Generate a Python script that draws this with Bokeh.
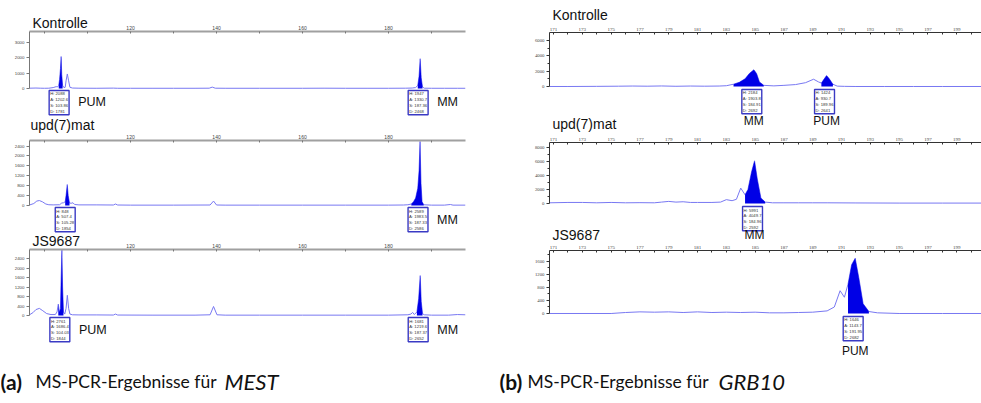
import numpy as np
from bokeh.plotting import figure
from bokeh.models import Range1d, Label, FixedTicker, Title
from bokeh.layouts import column, row
from bokeh.embed import file_html
from bokeh.resources import INLINE

TRACE = "#7878f2"
FILL = "#0000e6"
BOXC = "#3a3ac4"

# ---------------- MEST (a) ----------------
MEST_TICKS = [120, 140, 160, 180]
MEST_MINOR = [100, 110, 130, 150, 170, 190]

K_MEST_X = [96.5, 98, 99, 100, 101, 102, 102.7, 103.0, 103.3, 103.5, 103.7, 103.86, 104.0, 104.2, 104.5, 104.8,
            105.0, 105.3, 105.6, 105.9, 106.5, 108, 112, 116, 117, 120, 125, 130, 135, 138.3, 139.0, 139.7, 142,
            150, 160, 165, 170, 175, 180, 184, 185.5, 186.3, 186.8, 187.1, 187.36, 187.6, 187.9, 188.3, 190, 193,
            196, 197.9]
K_MEST_Y = [20, 30, 20, 15, 20, 60, 120, 100, 200, 600, 1300, 2088, 900, 200, 60, 80,
            500, 950, 500, 80, 30, 20, 15, 25, 15, 15, 15, 15, 15, 20, 90, 20, 15,
            15, 15, 20, 15, 15, 15, 20, 30, 60, 200, 800, 1947, 700, 100, 20, 15, 15,
            15, 15]
K_MEST_FILL = [(103.2, 104.4), (186.5, 188.0)]
K_MEST_BOX = [(103.86, "H: 2088\nA: 1202.6\nS: 103.86\nD: 1781", "PUM"),
              (187.36, "H: 1947\nA: 1330.7\nS: 187.36\nD: 2468", "MM")]

U_MEST_X = [96.5, 97.5, 98.2, 98.8, 99.5, 100.3, 101, 102, 103.5, 104.0, 104.4, 104.8, 105.0, 105.28, 105.5, 105.8,
            106.2, 106.6, 107, 108, 112, 116.0, 116.5, 117.0, 120, 130, 138.5, 139.3, 140.0, 142, 150, 160, 170,
            180, 183.5, 184.5, 185.3, 185.8, 186.3, 186.8, 187.1, 187.33, 187.55, 187.8, 188.2, 190, 193, 194.4,
            195, 197.9]
U_MEST_Y = [20, 80, 180, 200, 150, 60, 30, 25, 30, 100, 110, 150, 400, 848, 400, 100,
            90, 110, 40, 25, 25, 20, 60, 20, 15, 15, 20, 180, 20, 15, 15, 15, 15,
            15, 20, 30, 60, 150, 300, 700, 1400, 2589, 900, 150, 30, 15, 15, 40,
            15, 15]
U_MEST_FILL = [(104.8, 105.8), (185.3, 188.2)]
U_MEST_BOX = [(105.28, "H: 848\nA: 507.4\nS: 105.28\nD: 1854", ""),
              (187.33, "H: 2589\nA: 1983.5\nS: 187.33\nD: 2586", "MM")]

J_MEST_X = [96.5, 97.3, 98.0, 98.8, 99.6, 100.5, 101.5, 102.5, 102.9, 103.2, 103.45, 103.7, 103.85, 104.03, 104.2,
            104.4, 104.7, 105.0, 105.3, 105.6, 105.9, 106.5, 108, 112, 116.0, 116.5, 117.0, 125, 135, 138.5, 139.3,
            140.1, 142, 150, 160, 170, 180, 184.5, 185.2, 185.6, 186.0, 186.6, 187.0, 187.37, 187.6, 187.9, 188.3,
            190, 194, 196, 197.9]
J_MEST_Y = [30, 120, 250, 300, 200, 80, 40, 40, 150, 480, 150, 300, 1500, 2761, 1200,
            150, 60, 300, 850, 300, 60, 30, 25, 25, 20, 60, 20, 15, 15, 30, 380,
            30, 15, 15, 15, 15, 15, 30, 60, 130, 40, 150, 700, 1681, 600, 80, 30,
            15, 15, 40, 30]
J_MEST_FILL = [(103.0, 104.5), (186.4, 188.0)]
J_MEST_BOX = [(104.03, "H: 2761\nA: 1686.4\nS: 104.03\nD: 1844", "PUM"),
              (187.37, "H: 1681\nA: 1219.6\nS: 187.37\nD: 2652", "MM")]

# ---------------- GRB10 (b) ----------------
GRB_TICKS = list(range(171, 203, 2))
GRB_MINOR = list(range(170, 202, 2))

K_GRB_X = [170.72, 172, 174, 175.5, 176.5, 177.5, 178.5, 179.5, 180.5, 181.5, 182.5, 183.0, 183.5, 183.9, 184.3,
           184.6, 184.91, 185.1, 185.3, 185.6, 186.3, 187.0, 187.8, 188.5, 189.06, 189.4, 189.6, 189.8, 189.96,
           190.15, 190.4, 190.7, 191.2, 192, 194, 196, 198, 200.72]
K_GRB_Y = [0, 0, 20, 40, 60, 40, 70, 30, 60, 40, 60, 100, 300, 550, 1000,
           1700, 2184, 1700, 600, 150, 80, 150, 250, 500, 950, 600, 450, 1000, 1424,
           1000, 300, 50, 20, 0, 0, 0, 0, 0]
K_GRB_FILL = [(183.3, 185.6), (189.55, 190.6)]
K_GRB_BOX = [(184.91, "H: 2184\nA: 1903.8\nS: 184.91\nD: 2692", "MM"),
             (189.96, "H: 1424\nA: 930.7\nS: 189.96\nD: 2641", "PUM")]

U_GRB_X = [170.72, 172, 173, 174, 175, 176, 177, 178, 178.5, 179, 179.5, 180, 180.5, 181, 182, 182.6, 183.0, 183.4,
           183.7, 184.0, 184.3, 184.5, 184.75, 184.96, 185.15, 185.4, 185.7, 186.2, 187, 188, 189, 190, 192, 195,
           198, 200.72]
U_GRB_Y = [100, 150, 150, 100, 150, 100, 120, 100, 200, 300, 200, 250, 150, 150, 150, 200, 550, 400,
           600, 2200, 1250, 2000, 4500, 6100, 3500, 800, 200, 100, 100, 100, 100, 100, 80, 60,
           60, 60]
U_GRB_FILL = [(184.3, 185.7)]
U_GRB_BOX = [(184.96, "H: 5991\nA: 4049.7\nS: 184.96\nD: 2592", "MM")]

J_GRB_X = [170.72, 175, 176, 177, 178, 179, 180, 181, 182, 183, 184, 185, 186, 187, 188, 189, 190, 190.5, 190.9,
           191.2, 191.45, 191.7, 191.95, 192.2, 192.5, 192.9, 193.5, 195, 198, 200.72]
J_GRB_Y = [0, 0, 30, 50, 40, 50, 30, 50, 30, 40, 30, 40, 20, 20, 30, 40, 80, 200, 700,
           500, 900, 1500, 1700, 1100, 300, 60, 20, 0, 0, 0]
J_GRB_FILL = [(191.35, 192.9)]
J_GRB_BOX = [(191.95, "H: 1646\nA: 1143.7\nS: 191.95\nD: 2682", "PUM")]

TITLE_FONT = "Liberation Sans"
CAP_FONT = "Lato"


def make_fig(w, h, xr, yr, bl, bt, br, axes=True):
    kw = dict(width=w, height=h, x_range=Range1d(*xr), y_range=Range1d(*yr),
              output_backend="svg", toolbar_location=None, title=None,
              min_border_left=bl, min_border_top=bt, min_border_bottom=0, min_border_right=br)
    if axes:
        kw["x_axis_location"] = "above"
    else:
        kw["x_axis_location"] = None
        kw["y_axis_location"] = None
    p = figure(**kw)
    p.xgrid.visible = False
    p.ygrid.visible = False
    p.outline_line_color = None
    p.border_fill_color = "white"
    p.background_fill_color = "white"
    return p


def style_axes(p, xticks, xminor, yticks, yminor, top, mest):
    xa = p.xaxis[0]
    xa.ticker = FixedTicker(ticks=xticks, minor_ticks=xminor)
    xa.axis_line_color = "#a0a0a0" if mest else "#333333"
    xa.axis_line_width = 2 if mest else 1
    xa.major_tick_in = 2
    xa.major_tick_out = 0
    xa.minor_tick_in = 2
    xa.minor_tick_out = 0
    xa.major_tick_line_color = "#777777" if mest else "#333333"
    xa.minor_tick_line_color = "#777777" if mest else "#333333"
    xa.major_label_standoff = 2
    xa.major_label_text_font = "Liberation Sans" if mest else "Liberation Serif"
    xa.major_label_text_font_size = "5px"
    xa.major_label_text_color = "#444444"
    ya = p.yaxis[0]
    ya.ticker = FixedTicker(ticks=yticks, minor_ticks=yminor)
    ya.bounds = (0, top)
    ya.axis_line_color = "#777777" if mest else "#333333"
    ya.major_tick_line_color = "#777777" if mest else "#333333"
    ya.minor_tick_line_color = "#777777" if mest else "#333333"
    ya.major_tick_out = 3
    ya.major_tick_in = 0
    ya.minor_tick_out = 0 if mest else 2
    ya.minor_tick_in = 0
    ya.major_label_standoff = 2
    ya.major_label_text_font = "Liberation Sans" if mest else "Liberation Serif"
    ya.major_label_text_font_size = "4.4px" if mest else "4.8px"
    ya.major_label_text_color = "#444444"


def draw_trace(p, xs, ys, fills):
    x = np.array(xs, dtype=float)
    y = np.array(ys, dtype=float)
    p.line(x, y, line_color=TRACE, line_width=1)
    for lo, hi in fills:
        m = (x >= lo) & (x <= hi)
        p.varea(x=x[m], y1=0, y2=y[m], fill_color=FILL, fill_alpha=1)


def panel_title(p, text, dx, standoff):
    # sample name in the panel's top border, beside the tick labels
    p.add_layout(Title(text=text, align="left", offset=dx, standoff=standoff, vertical_align="bottom",
                       text_font=TITLE_FONT, text_font_size="14px", text_font_style="normal",
                       text_color="#111111"), "above")


def label_title(p, text, dx, dy):
    # sample name of the next panel, drawn at the bottom of this figure area
    p.add_layout(Label(x=p.x_range.start, y=p.y_range.start, x_offset=dx, y_offset=dy, text=text,
                       text_font=TITLE_FONT, text_font_size="14px", text_color="#111111",
                       text_baseline="alphabetic", text_align="left"))


def info_box(p, s, text, dy):
    p.add_layout(Label(x=s, y=0, x_offset=-12, y_offset=dy, text=text, text_align="left",
                       text_baseline="top", text_font="Liberation Sans", text_font_size="4.2px",
                       text_color="#333333", text_line_height=1.15,
                       border_line_color=BOXC, border_line_width=1.4,
                       background_fill_color="white", padding=1))


def peak_label(p, s, text, dx, dy, align="left", size="12.5px"):
    p.add_layout(Label(x=s, y=0, x_offset=dx, y_offset=dy, text=text, text_align=align,
                       text_baseline="top", text_font="Liberation Sans", text_font_size=size,
                       text_color="#111111"))


XR_M = (96.5, 197.9)
XR_G = (170.72, 200.72)
WL = 530
WR = 981 - WL
BL_L, BR_L = 29, 65
BL_R, BR_R = 19, 0

# ---- left column ----
a1 = make_fig(WL, 116, XR_M, (-1830, 3725), BL_L, 31, BR_L)
style_axes(a1, MEST_TICKS, MEST_MINOR, [0, 1000, 2000, 3000], [], 3725, True)
draw_trace(a1, K_MEST_X, K_MEST_Y, K_MEST_FILL)
panel_title(a1, "Kontrolle", 3, -16)
for s, t, lab in K_MEST_BOX:
    info_box(a1, s, t, -2)
    if lab:
        peak_label(a1, s, lab, 17, -7)

a2 = make_fig(WL, 117, XR_M, (-1131, 2626), BL_L, 24, BR_L)
style_axes(a2, MEST_TICKS, MEST_MINOR, [0, 400, 800, 1200, 1600, 2000, 2400], [], 2626, True)
draw_trace(a2, U_MEST_X, U_MEST_Y, U_MEST_FILL)
panel_title(a2, "upd(7)mat", 1, -3)
for s, t, lab in U_MEST_BOX:
    info_box(a2, s, t, -2)
    if lab:
        peak_label(a2, s, lab, 17, -7)

a3 = make_fig(WL, 125, XR_M, (-1810, 2779), BL_L, 16, BR_L)
style_axes(a3, MEST_TICKS, MEST_MINOR, [0, 400, 800, 1200, 1600, 2000, 2400], [], 2779, True)
draw_trace(a3, J_MEST_X, J_MEST_Y, J_MEST_FILL)
panel_title(a3, "JS9687", 3, -17)
for s, t, lab in J_MEST_BOX:
    info_box(a3, s, t, -2)
    if lab:
        peak_label(a3, s, lab, 17, -7)

# ---- right column ----
hB = make_fig(WR, 24, XR_G, (0, 1), BL_R, 0, BR_R, axes=False)
label_title(hB, "Kontrolle", 3, 10)

b1 = make_fig(WR, 110, XR_G, (-6275, 7059), BL_R, 8, BR_R)
style_axes(b1, GRB_TICKS, GRB_MINOR, [0, 2000, 4000, 6000], [1000, 3000, 5000], 7059, False)
draw_trace(b1, K_GRB_X, K_GRB_Y, K_GRB_FILL)
for s, t, lab in K_GRB_BOX:
    info_box(b1, s, t, -3)
    peak_label(b1, s, lab, 0, -28, align="center", size="12px")
label_title(b1, "upd(7)mat", 3, 11)

b2 = make_fig(WR, 108, XR_G, (-5571, 8714), BL_R, 8, BR_R)
style_axes(b2, GRB_TICKS, GRB_MINOR, [0, 2000, 4000, 6000, 8000], [1000, 3000, 5000, 7000], 8714, False)
draw_trace(b2, U_GRB_X, U_GRB_Y, U_GRB_FILL)
for s, t, lab in U_GRB_BOX:
    info_box(b2, s, t, -3)
    peak_label(b2, s, lab, 0, -24.5, align="center", size="12px")
label_title(b2, "JS9687", 3, 8)

b3 = make_fig(WR, 116, XR_G, (-1385, 1938), BL_R, 8, BR_R)
style_axes(b3, GRB_TICKS, GRB_MINOR, [0, 400, 800, 1200, 1600], [200, 600, 1000, 1400, 1800], 1938, False)
draw_trace(b3, J_GRB_X, J_GRB_Y, J_GRB_FILL)
for s, t, lab in J_GRB_BOX:
    info_box(b3, s, t, -3)
    peak_label(b3, s, lab, 0, -31, align="center", size="12px")

# ---- captions ----
cap = make_fig(981, 45, (0, 981), (0, 45), 0, 0, 0, axes=False)
CAPTIONS = [(0, "(a)", "bold", "21px"), (35, "MS-PCR-Ergebnisse für", "normal", "17.5px"),
            (224, "MEST", "italic", "22px"),
            (499, "(b)", "bold", "21px"), (527, "MS-PCR-Ergebnisse für", "normal", "17.5px"),
            (718, "GRB10", "italic", "22px")]
for cx, ctext, cstyle, csize in CAPTIONS:
    cap.add_layout(Label(x=cx, y=22, text=ctext, text_font=CAP_FONT, text_font_style=cstyle,
                         text_font_size=csize, text_color="#111111", text_baseline="alphabetic"))

layout = column(row(column(a1, a2, a3), column(hB, b1, b2, b3)), cap)
open("out.html", "w").write(file_html(layout, INLINE))
